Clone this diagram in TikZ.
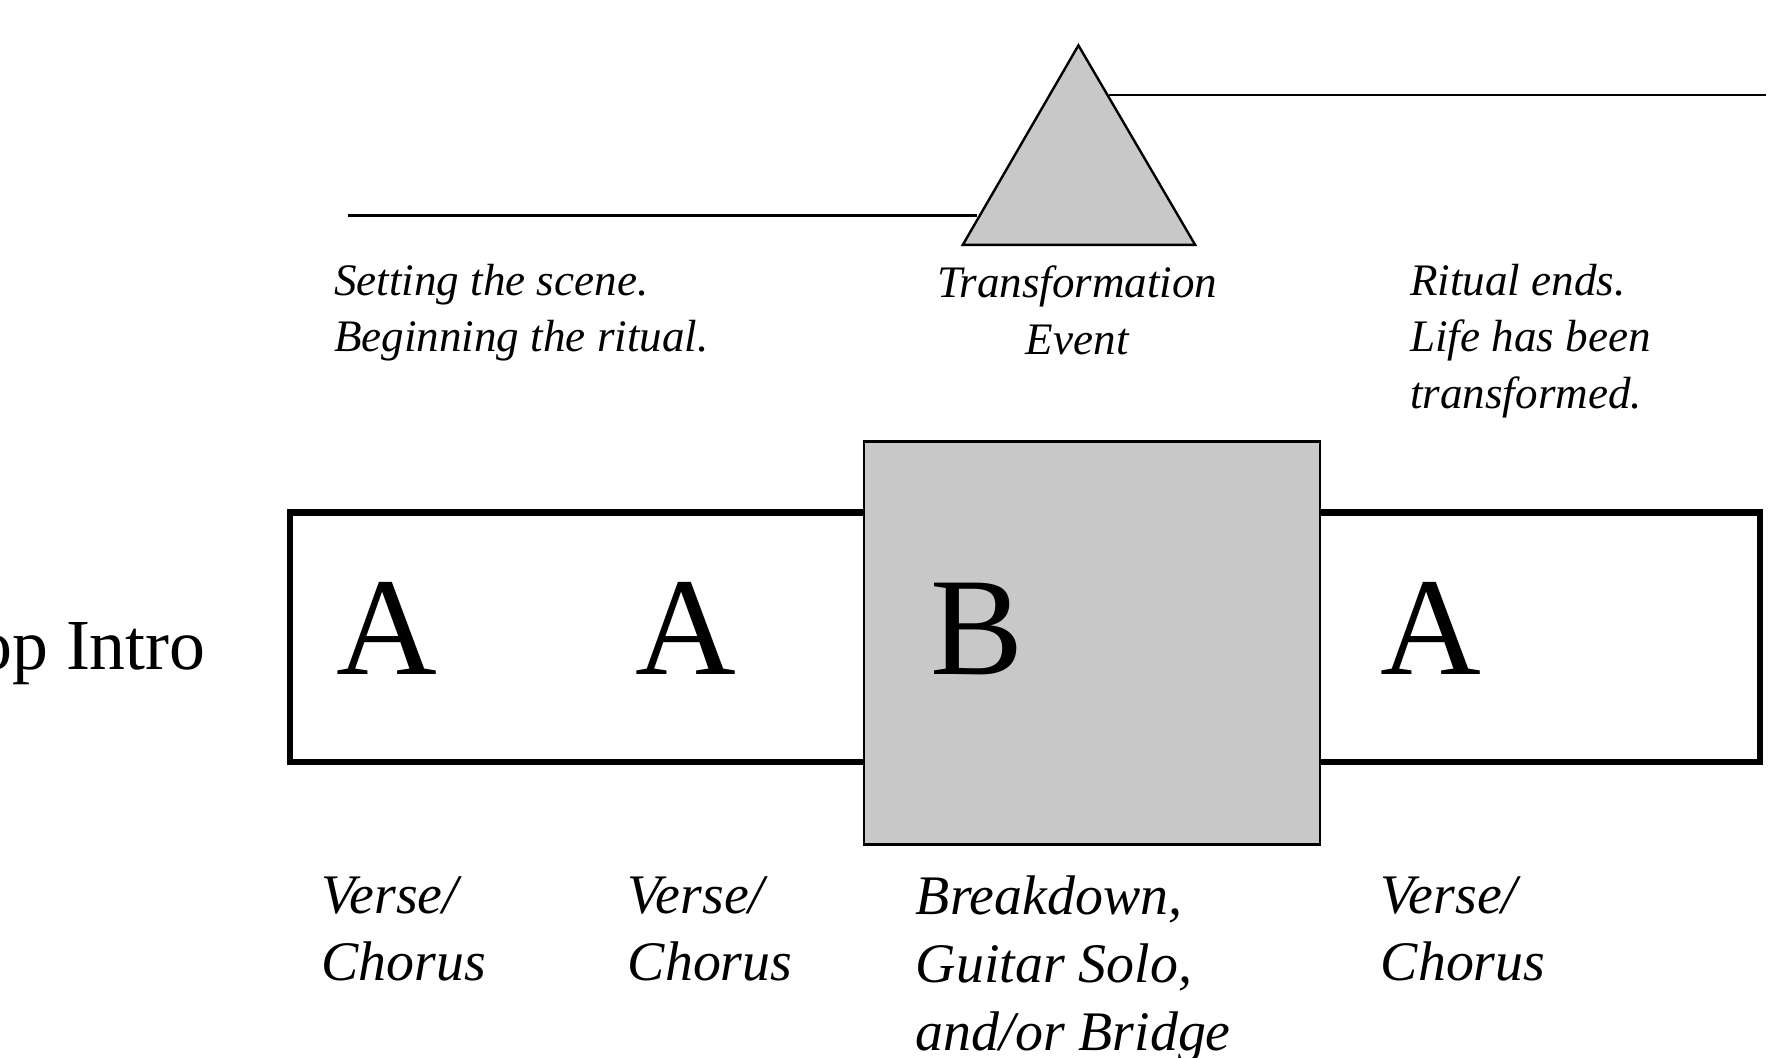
\documentclass[tikz,border=0pt]{standalone}
\usepackage{fontspec}
\setmainfont{Liberation Serif}
\definecolor{fillgray}{RGB}{200,200,200}
\begin{document}
\begin{tikzpicture}[x=0.01cm,y=-0.01cm,
  big/.style={font=\fontsize{35}{40}\selectfont,anchor=base,inner sep=0},
  note/.style={font=\fontsize{11.3}{14.2}\selectfont\itshape,align=left,anchor=north west,inner sep=0},
  lab/.style={font=\fontsize{14}{17}\selectfont\itshape,align=left,anchor=north west,inner sep=0}]
\useasboundingbox (0,0) rectangle (1560,933);
\clip (0,0) rectangle (1560,933);
% timeline
\coordinate (l1) at (307,190); \coordinate (l2) at (862,190);
\coordinate (r1) at (978,84); \coordinate (r2) at (1557,84);
\draw[line width=0.6pt] (l1) -- (l2);
\draw[line width=0.6pt] (r1) -- (r2);
\draw[fill=fillgray,line width=0.6pt] (951,40) -- (1054,216) -- (849,216) -- cycle;
\node[note] (n1) at (294,232) {Setting the scene.\\Beginning the ritual.};
\node[note,align=center,anchor=north] (n2) at (950,234) {Transformation\\Event};
\node[note] (n3) at (1243,232) {Ritual ends.\\Life has been\\transformed.};
% form
\draw[line width=1.6pt] (256,452) rectangle (1552,672);
\draw[fill=fillgray,line width=0.7pt] (762,389) rectangle (1164,745);
\node[big] (a1) at (341,595) {A};
\node[big] (a2) at (605,595) {A};
\node[big] (b) at (862,595) {B};
\node[big] (a3) at (1262,595) {A};
\node[font=\fontsize{18}{20}\selectfont,anchor=base east,inner sep=0] (intro) at (182,590) {Pop Intro};
\node[lab] (v1) at (283,772) {Verse/\\Chorus};
\node[lab] (v2) at (553,772) {Verse/\\Chorus};
\node[lab] (v3) at (807,772) {Breakdown,\\Guitar Solo,\\and/or Bridge};
\node[lab] (v4) at (1217,772) {Verse/\\Chorus};
\end{tikzpicture}
\end{document}
